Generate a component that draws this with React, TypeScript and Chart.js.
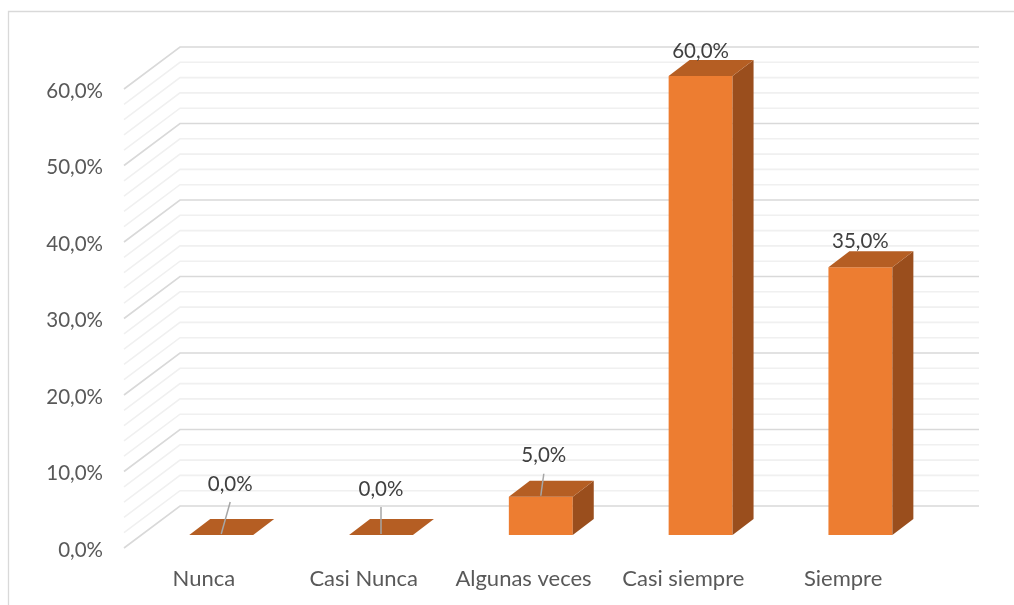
import React, { useEffect, useRef } from "react";
import { Chart, registerables } from "chart.js";

Chart.register(...registerables);

const categories = ["Nunca", "Casi Nunca", "Algunas veces", "Casi siempre", "Siempre"];
const values = [0, 0, 5, 60, 35];
const yTicks = [0, 10, 20, 30, 40, 50, 60];
const minorStep = 2;
const labelDx = [9, 0, 3, 0, 0];
const labelDy = [-51, -46, -41, -25, -26];
const leader = [true, true, true, false, false];

const FONT = "Lato, 'Open Sans', sans-serif";
const FRONT = "#ED7D31";
const TOP = "#B55E23";
const SIDE = "#9A4E1D";

const fmt = (v: number) => v.toFixed(1).replace(".", ",") + "%";

// depth offsets relative to the bar front plane (chart area)
const BACK_DX = 38.7;
const BACK_DY = -29;
const FRONT_DX = -17.3;
const FRONT_DY = 13;
const BAR_DX = 21;
const BAR_DY = -16;

const decor = {
  id: "decor3d",
  beforeDatasetsDraw(chart: any) {
    const ctx = chart.ctx;
    const x = chart.scales.x;
    const y = chart.scales.y;
    const area = chart.chartArea;
    ctx.save();
    // outer border
    ctx.strokeStyle = "#D9D9D9";
    ctx.lineWidth = 1.3;
    ctx.beginPath();
    ctx.moveTo(8.5, 700);
    ctx.lineTo(8.5, 11.5);
    ctx.lineTo(1100, 11.5);
    ctx.stroke();

    const bl = area.left + BACK_DX;
    const br = area.right + BACK_DX;
    const sdx = FRONT_DX - BACK_DX;
    const sdy = FRONT_DY - BACK_DY;
    const levels: number[] = [];
    for (let v = 0; v <= 60 + 1e-6; v += minorStep) levels.push(v);
    for (const pass of [0, 1]) {
      for (const v of levels) {
        const major = Math.abs(v / 10 - Math.round(v / 10)) < 1e-6;
        if ((pass === 1) !== major) continue;
        const yb = y.getPixelForValue(v) + BACK_DY;
        ctx.strokeStyle = major ? "#D9D9D9" : "#F0F0F0";
        ctx.lineWidth = 1.6;
        ctx.beginPath();
        ctx.moveTo(bl + sdx, yb + sdy);
        ctx.lineTo(bl, yb);
        ctx.lineTo(br, yb);
        ctx.stroke();
      }
    }
    // y tick labels
    ctx.fillStyle = "#595959";
    ctx.font = `20.5px ${FONT}`;
    ctx.textAlign = "right";
    ctx.textBaseline = "middle";
    for (const v of yTicks) {
      ctx.fillText(fmt(v), 103, y.getPixelForValue(v) + FRONT_DY + 2);
    }
    // x labels
    ctx.font = `22px ${FONT}`;
    ctx.textAlign = "center";
    categories.forEach((c, i) => {
      ctx.fillText(c, x.getPixelForValue(i) + FRONT_DX, area.bottom + FRONT_DY + 31);
    });
    ctx.restore();
  },
  afterDatasetsDraw(chart: any) {
    const ctx = chart.ctx;
    const meta = chart.getDatasetMeta(0);
    ctx.save();
    meta.data.forEach((bar: any) => {
      const { x, y, base, width } = bar.getProps(["x", "y", "base", "width"], true);
      const l = x - width / 2;
      const r = x + width / 2;
      if (base - y > 0.5) {
        ctx.fillStyle = SIDE;
        ctx.beginPath();
        ctx.moveTo(r, y);
        ctx.lineTo(r + BAR_DX, y + BAR_DY);
        ctx.lineTo(r + BAR_DX, base + BAR_DY);
        ctx.lineTo(r, base);
        ctx.closePath();
        ctx.fill();
      }
      ctx.fillStyle = TOP;
      ctx.beginPath();
      ctx.moveTo(l, y);
      ctx.lineTo(r, y);
      ctx.lineTo(r + BAR_DX, y + BAR_DY);
      ctx.lineTo(l + BAR_DX, y + BAR_DY);
      ctx.closePath();
      ctx.fill();
    });
    ctx.font = `20.5px ${FONT}`;
    ctx.textAlign = "center";
    ctx.textBaseline = "middle";
    meta.data.forEach((bar: any, i: number) => {
      const { x, y } = bar.getProps(["x", "y"], true);
      const lx = x + labelDx[i];
      const ly = y + labelDy[i];
      if (leader[i]) {
        ctx.strokeStyle = "#A6A6A6";
        ctx.lineWidth = 1.5;
        ctx.beginPath();
        ctx.moveTo(lx, ly + 18);
        ctx.lineTo(x, y - 1);
        ctx.stroke();
      }
      ctx.fillStyle = "#404040";
      ctx.fillText(fmt(values[i]), lx, ly);
    });
    ctx.restore();
  },
};

export default function App() {
  const ref = useRef<HTMLCanvasElement | null>(null);
  useEffect(() => {
    if (!ref.current) return;
    const chart = new Chart(ref.current, {
      type: "bar",
      data: {
        labels: categories,
        datasets: [
          {
            data: values,
            backgroundColor: FRONT,
            borderWidth: 0,
            barPercentage: 0.4,
            categoryPercentage: 1,
          },
        ],
      },
      options: {
        animation: false,
        responsive: false,
        devicePixelRatio: 1,
        layout: { padding: { left: 141.3, right: 73.7, top: 76, bottom: 70 } },
        plugins: { legend: { display: false }, tooltip: { enabled: false } },
        scales: {
          x: { display: false },
          y: { display: false, min: 0, max: 60 },
        },
      },
      plugins: [decor],
    });
    return () => chart.destroy();
  }, []);
  return (
    <div style={{ position: "fixed", left: 0, top: 0, width: 1014, height: 605, background: "#fff" }}>
      <canvas ref={ref} width={1014} height={605} style={{ width: 1014, height: 605 }} />
    </div>
  );
}
